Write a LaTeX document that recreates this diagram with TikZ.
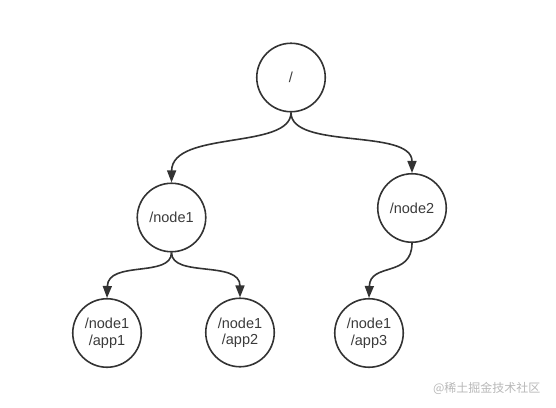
\documentclass[tikz,border=0pt]{standalone}
\usepackage{fontspec}
\setmainfont{Liberation Sans}
\newfontfamily\cjkfont{Noto Sans CJK SC}
\usetikzlibrary{arrows.meta}
\definecolor{ink}{HTML}{333333}
\definecolor{txt}{HTML}{3A3A3A}
\definecolor{wm}{HTML}{B8B8B8}
\tikzset{
  tnode/.style={circle, draw=ink, line width=1.6pt, minimum size=68.5pt, inner sep=0pt,
    font=\fontsize{14.5pt}{16.5pt}\selectfont, text=txt, align=center},
  edge/.style={draw=ink, line width=1.6pt, -{Triangle[length=12pt,width=9pt]}},
}
\begin{document}
\begin{tikzpicture}[x=1pt,y=-1pt]
\useasboundingbox (0,0) rectangle (556,407);
\node[tnode] (root) at (291,77.5) {/};
\node[tnode] (n1) at (171.5,217.5) {/node1};
\node[tnode] (n2) at (412,208) {/node2};
\node[tnode] (a1) at (107,333) {/node1\\/app1};
\node[tnode] (a2) at (240,332.5) {/node1\\/app2};
\node[tnode] (a3) at (369,333) {/node1\\/app3};
\draw[edge] (root.south) .. controls (291,150) and (172,130) .. (n1.north);
\draw[edge] (root.south) .. controls (291,150) and (412,128) .. (n2.north);
\draw[edge] (n1.south) .. controls (171.5,278) and (108,260) .. (a1.north);
\draw[edge] (n1.south) .. controls (171.5,278) and (240,260) .. (a2.north);
\draw[edge] (n2.south) .. controls (412,278) and (370,262) .. (a3.north);
\node[font=\cjkfont\fontsize{12pt}{14pt}\selectfont, text=wm, anchor=east] (wmark) at (544,388) {@稀土掘金技术社区};
\end{tikzpicture}
\end{document}
